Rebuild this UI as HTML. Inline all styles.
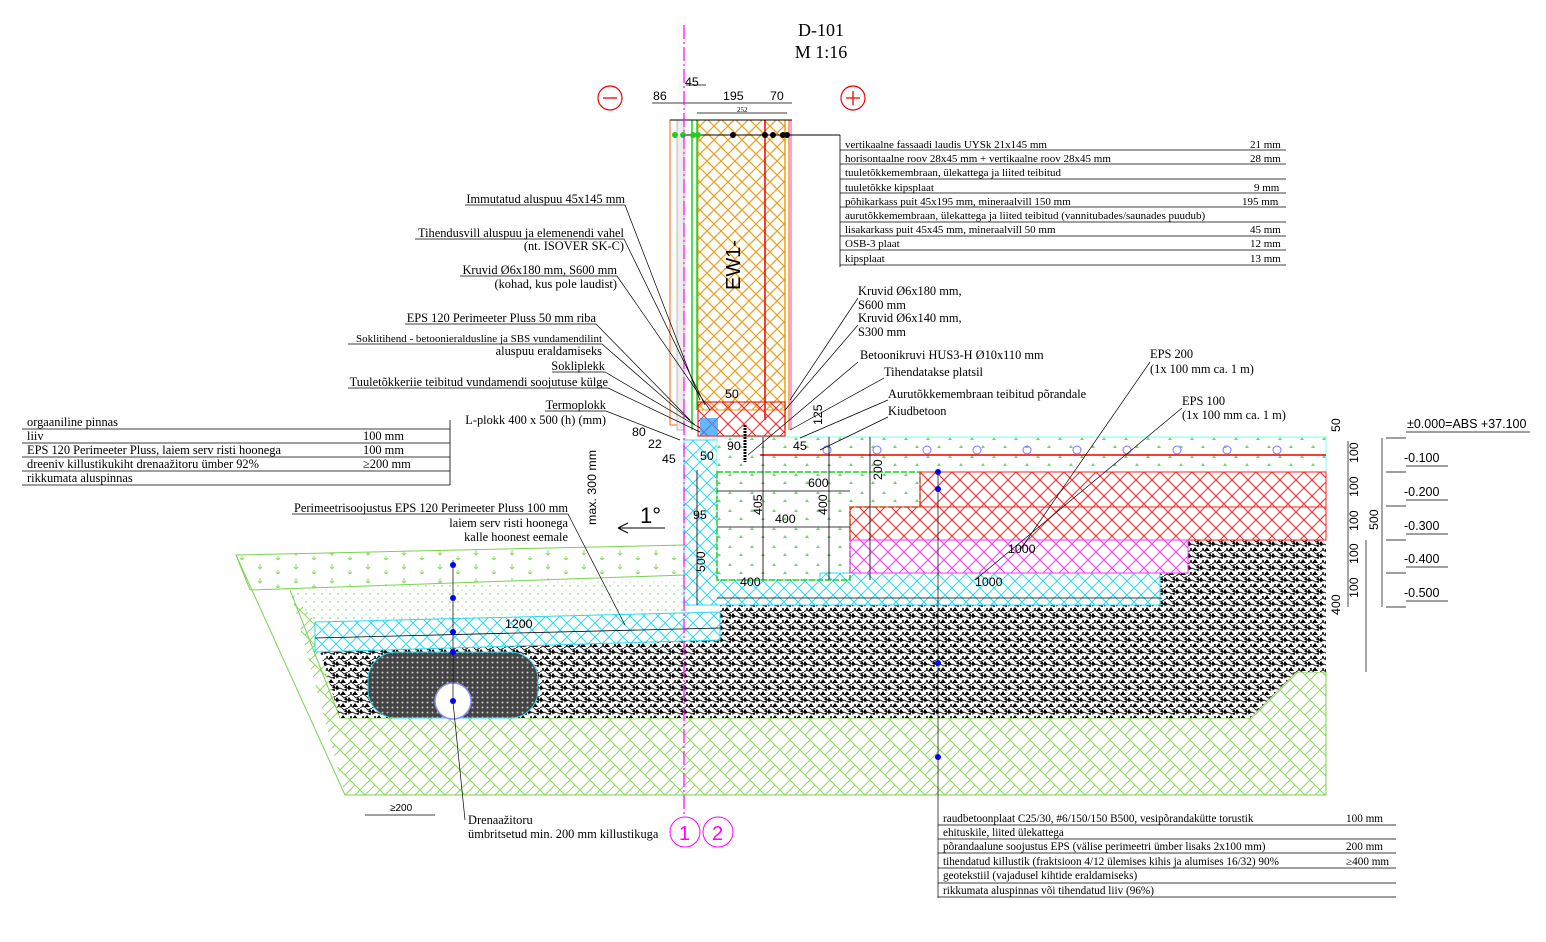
<!DOCTYPE html>
<html><head><meta charset="utf-8"><style>
html,body{margin:0;padding:0;background:#fff;}
svg{display:block;}
text{font-family:"Liberation Serif",serif;font-size:12.4px;fill:#000;}
text.t{font-size:11px;}
text.b{font-size:11.2px;}
.s{font-family:"Liberation Sans",sans-serif;}
</style></head><body>
<svg width="1546" height="942" viewBox="0 0 1546 942" xmlns="http://www.w3.org/2000/svg">
<defs>
<pattern id="or" width="14" height="14" patternUnits="userSpaceOnUse"><rect width="14" height="14" fill="#fff"/><path d="M0 0L14 14M14 0L0 14" stroke="#e8a020" stroke-width="1.2"/></pattern>
<pattern id="rd" width="16" height="16" patternUnits="userSpaceOnUse"><path d="M0 0L16 16M16 0L0 16" stroke="#f22" stroke-width="1"/></pattern>
<pattern id="cy" width="14" height="14" patternUnits="userSpaceOnUse"><path d="M0 0L14 14M14 0L0 14" stroke="#2cd8f0" stroke-width="1"/></pattern>
<pattern id="mg" width="16" height="16" patternUnits="userSpaceOnUse"><path d="M0 0L16 16M16 0L0 16" stroke="#f3f" stroke-width="1"/></pattern>
<pattern id="gh" width="20" height="20" patternUnits="userSpaceOnUse"><path d="M0 10L10 0M5 15L15 5M10 20L20 10M0 10L10 20M10 0L20 10" stroke="#8cd860" stroke-width="1"/></pattern>
<pattern id="gv" width="12" height="12" patternUnits="userSpaceOnUse"><rect width="12" height="12" fill="#fff"/><path d="M1 1l3 4h-6z M7 7l3 4h-6z M10 1l2 3h-4z" fill="#000"/><path d="M0 6L4 4 8 6 12 4M6 0l2 2 4-2M0 12l3-2 3 2" stroke="#222" stroke-width="1" fill="none"/><circle cx="10" cy="6" r="1" fill="#000"/><circle cx="3" cy="9" r="1" fill="#000"/></pattern>
<pattern id="gd" width="5" height="5" patternUnits="userSpaceOnUse"><rect width="5" height="5" fill="#444"/><circle cx="2.5" cy="2.5" r="1" fill="#ccc"/></pattern>
<pattern id="dot" width="22" height="18" patternUnits="userSpaceOnUse"><path d="M4 5l2 3h-4z M15 13l2 3h-4z" fill="#6d6"/></pattern>
<pattern id="sd" width="8" height="8" patternUnits="userSpaceOnUse"><circle cx="2" cy="2" r=".7" fill="#6c4"/><circle cx="6" cy="6" r=".5" fill="#6c4"/></pattern>
<pattern id="ts" width="36" height="14" patternUnits="userSpaceOnUse"><path d="M8 4v5M6 7l2 2 2-2 M26 10v4 M24 12l2 2 2-2" stroke="#8d6" fill="none"/></pattern>
</defs>

<text x="821" y="36" text-anchor="middle" style="font-size:18px">D-101</text>
<text x="821" y="58" text-anchor="middle" style="font-size:18px">M 1:16</text>
<circle cx="610" cy="98" r="12" fill="none" stroke="#e00" stroke-width="1.2"/><path d="M603 98h14" stroke="#e00" stroke-width="1.3"/>
<circle cx="853" cy="98" r="12" fill="none" stroke="#e00" stroke-width="1.2"/><path d="M846 98h14M853 91v14" stroke="#e00" stroke-width="1.3"/>

<path d="M652 103h140M686 85h20M697 113h90" stroke="#000" stroke-width=".8" fill="none"/>
<g class="s"><text x="653" y="100" class="s">86</text><text x="685" y="86" class="s">45</text><text x="723" y="100" class="s">195</text><text x="770" y="100" class="s">70</text></g><text x="737" y="112" style="font-size:7px">252</text>

<polygon points="250,590 290,590 345,795 1326,795 1326,672 1296,672 1250,718 340,718 320,652 315,622 290,590" fill="url(#gh)"/>
<path d="M236,555 L345,795 L1326,795 L1326,672 L1296,672 L1250,718 L340,718 L290,590" fill="none" stroke="#7cd050" stroke-width="1"/>
<polygon points="236,555 684,545 684,575 250,590" fill="url(#ts)" stroke="#7cd050"/>
<polygon points="250,590 684,578 684,612 720,612 315,622 290,590" fill="url(#sd)"/>
<polygon points="320,652 720,640 720,605 1160,605 1160,573 1188,573 1188,540 1326,540 1326,672 1296,672 1250,718 340,718" fill="url(#gv)"/>
<rect x="368" y="652" width="170" height="66" rx="28" fill="url(#gd)" stroke="#2cd8f0"/>
<circle cx="453" cy="701" r="18" fill="#fff" stroke="#88f" stroke-width="1.5"/>
<polygon points="315,622 720,612 720,640 315,652" fill="#fff"/><polygon points="315,622 720,612 720,640 315,652" fill="url(#cy)" stroke="#2cd8f0"/>
<path d="M315,638 L720,628" stroke="#000" stroke-width=".8"/><text x="505" y="628" class="s">1200</text>

<polygon points="684,440 717,440 717,580 820,580 820,573 1160,573 1160,605 684,605" fill="url(#cy)" stroke="#2cd8f0"/>
<rect x="717" y="437" width="609" height="35" fill="url(#dot)" stroke="#7fe" stroke-width="1"/>
<polygon points="717,472 920,472 920,507 850,507 850,580 717,580" fill="url(#dot)" stroke="#2c2" stroke-dasharray="6 2" stroke-width="1.5"/>
<rect x="920" y="472" width="406" height="35" fill="url(#rd)" stroke="#f22"/>
<rect x="850" y="507" width="476" height="33" fill="url(#rd)" stroke="#f22"/>
<rect x="850" y="540" width="338" height="33" fill="url(#mg)" stroke="#f3f"/>
<path d="M760 455H1326" stroke="#e00" stroke-width="1.5"/>
<g fill="none" stroke="#77f"><circle cx="827" cy="450" r="4"/><circle cx="877" cy="450" r="4"/><circle cx="927" cy="450" r="4"/><circle cx="977" cy="450" r="4"/><circle cx="1027" cy="450" r="4"/><circle cx="1077" cy="450" r="4"/><circle cx="1127" cy="450" r="4"/><circle cx="1177" cy="450" r="4"/><circle cx="1227" cy="450" r="4"/><circle cx="1277" cy="450" r="4"/></g>
<g stroke="#000" stroke-width=".8" fill="none">
<path d="M717 491H850M717 527H850M763 437V580M829 437V580M870 437V580M717 598H1160M697 470V605"/>
</g>
<g><text x="808" y="487" class="s">600</text><text x="775" y="523" class="s">400</text><text x="740" y="586" class="s">400</text><text x="975" y="586" class="s">1000</text><text x="1008" y="553" class="s">1000</text><text x="700" y="460" class="s">50</text><text x="727" y="450" class="s">90</text><text x="693" y="519" class="s">95</text>
<text transform="translate(762 515) rotate(-90)" class="s">405</text><text transform="translate(827 515) rotate(-90)" class="s">400</text><text transform="translate(882 480) rotate(-90)" class="s">200</text><text transform="translate(705 572) rotate(-90)" class="s">500</text></g>

<rect x="698" y="120" width="87" height="290" fill="url(#or)" stroke="#e8a020"/>
<rect x="670" y="120" width="7" height="305" fill="#fff" stroke="#f60"/>
<rect x="677" y="120" width="7" height="310" fill="#eee" stroke="#bbb"/>
<path d="M692 120V430M697 120V410" stroke="#2c2" stroke-width="1.5"/>
<path d="M765 120V420" stroke="#e00" stroke-width="1.5"/><path d="M785 120V430M789 120V430" stroke="#e8a020" stroke-width="1.5"/><path d="M791 120V430" stroke="#f3f"/>
<rect x="698" y="402" width="87" height="34" fill="url(#rd)" stroke="#e00"/>
<rect x="700" y="418" width="18" height="18" fill="#29f" opacity=".7"/>
<path d="M670 120H792" stroke="#000"/>
<text transform="translate(740 290) rotate(-90)" class="s" style="font-size:20px">EW1-</text>
<text x="725" y="398" class="s">50</text>
<path d="M684 135H840" stroke="#000"/>
<g fill="#2c2"><circle cx="675" cy="135" r="3"/><circle cx="683" cy="135" r="3"/><circle cx="693" cy="135" r="3"/><circle cx="698" cy="135" r="3"/></g>
<g fill="#000"><circle cx="733" cy="135" r="3"/><circle cx="765" cy="135" r="3"/><circle cx="773" cy="135" r="3"/><circle cx="783" cy="135" r="3"/><circle cx="787" cy="135" r="3"/></g>
<path d="M745 425V462" stroke="#000" stroke-width="3" stroke-dasharray="2 1"/>

<path d="M684 25V815" stroke="#f0f" stroke-width="1.2" stroke-dasharray="14 3 2 3"/>
<circle cx="685" cy="832" r="15" fill="none" stroke="#f0f"/><text x="679" y="840" class="s" style="font-size:20px;fill:#f0f">1</text>
<circle cx="718" cy="832" r="15" fill="none" stroke="#f0f"/><text x="712" y="840" class="s" style="font-size:20px;fill:#f0f">2</text>

<g stroke="#000" stroke-width=".8">
<path d="M840 135V267M840 150H1286M840 164H1286M840 179H1286M840 193H1286M840 207H1286M840 222H1286M840 236H1286M840 250H1286M840 265H1286"/></g>
<text class="t" x="845" y="148">vertikaalne fassaadi laudis UYSk 21x145 mm</text><text class="t" x="1250" y="148">21 mm</text>
<text class="t" x="845" y="162">horisontaalne roov 28x45 mm + vertikaalne roov 28x45 mm</text><text class="t" x="1250" y="162">28 mm</text>
<text class="t" x="845" y="176">tuuletõkkemembraan, ülekattega ja liited teibitud</text>
<text class="t" x="845" y="191">tuuletõkke kipsplaat</text><text class="t" x="1254" y="191">9 mm</text>
<text class="t" x="845" y="205">põhikarkass puit 45x195 mm, mineraalvill 150 mm</text><text class="t" x="1242" y="205">195 mm</text>
<text class="t" x="845" y="219">aurutõkkemembraan, ülekattega ja liited teibitud (vannitubades/saunades puudub)</text>
<text class="t" x="845" y="233">lisakarkass puit 45x45 mm, mineraalvill 50 mm</text><text class="t" x="1250" y="233">45 mm</text>
<text class="t" x="845" y="247">OSB-3 plaat</text><text class="t" x="1250" y="247">12 mm</text>
<text class="t" x="845" y="262">kipsplaat</text><text class="t" x="1250" y="262">13 mm</text>

<g stroke="#000" stroke-width=".7" fill="none">
<path d="M465 205H625L700 400M415 239H624L705 405M460 276H617L710 410M405 324H596L690 420M348 344H602L695 425M552 372H605L700 428M348 388H608L700 432M545 411H606L680 440M292 514H568L625 625M858 298L790 400M858 325L785 410M858 362L748 455M884 378L790 430M888 400L800 438M888 417L820 450M1150 362L1020 550M1182 408L975 580M1348 441V607M1382 438V607M1366 540V672M1386 438H1406M1386 472H1406M1386 506H1406M1386 540H1406M1386 573H1406M1386 607H1406M1406 432H1530M1406 466H1448M1406 500H1448M1406 534H1448M1406 567H1448M1406 601H1448M453 560V702L465 820"/>
</g>
<g stroke="#000" stroke-width=".7"><path d="M938 470V898"/></g>
<g fill="#00f"><circle cx="453" cy="565" r="3"/><circle cx="453" cy="598" r="3"/><circle cx="453" cy="632" r="3"/><circle cx="453" cy="652" r="3"/><circle cx="453" cy="701" r="3"/><circle cx="938" cy="472" r="3"/><circle cx="938" cy="489" r="3"/><circle cx="938" cy="663" r="3"/><circle cx="938" cy="757" r="3"/></g>
<text x="625" y="203" text-anchor="end">Immutatud aluspuu 45x145 mm</text>
<text x="624" y="237" text-anchor="end">Tihendusvill aluspuu ja elemenendi vahel</text>
<text x="624" y="250" text-anchor="end">(nt.     ISOVER SK-C)</text>
<text x="617" y="274" text-anchor="end">Kruvid Ø6x180 mm, S600 mm</text>
<text x="617" y="288" text-anchor="end">(kohad, kus pole laudist)</text>
<text x="596" y="322" text-anchor="end">EPS 120 Perimeeter Pluss 50 mm riba</text>
<text x="602" y="342" text-anchor="end" style="font-size:11px">Soklitihend - betoonieraldusline ja SBS vundamendilint</text>
<text x="602" y="355" text-anchor="end">aluspuu eraldamiseks</text>
<text x="605" y="370" text-anchor="end">Sokliplekk</text>
<text x="608" y="386" text-anchor="end">Tuuletõkkeriie teibitud vundamendi soojutuse külge</text>
<text x="606" y="409" text-anchor="end">Termoplokk</text>
<text x="606" y="424" text-anchor="end">L-plokk 400 x 500 (h) (mm)</text>
<text x="568" y="512" text-anchor="end">Perimeetrisoojustus EPS 120 Perimeeter Pluss 100 mm</text>
<text x="568" y="527" text-anchor="end">laiem serv risti hoonega</text>
<text x="568" y="541" text-anchor="end">kalle hoonest eemale</text>
<text x="858" y="295">Kruvid Ø6x180 mm,</text><text x="858" y="309">S600 mm</text>
<text x="858" y="322">Kruvid Ø6x140 mm,</text><text x="858" y="336">S300 mm</text>
<text x="860" y="359">Betoonikruvi HUS3-H Ø10x110 mm</text>
<text x="884" y="376">Tihendatakse platsil</text>
<text x="888" y="398">Aurutõkkemembraan teibitud põrandale</text>
<text x="888" y="415">Kiudbetoon</text>
<text x="1150" y="358">EPS 200</text><text x="1150" y="373">(1x 100 mm ca. 1 m)</text>
<text x="1182" y="405">EPS 100</text><text x="1182" y="419">(1x 100 mm ca. 1 m)</text>
<g><text x="1407" y="428" class="s" style="font-size:12.5px">±0.000=ABS +37.100</text>
<text x="1404" y="462" class="s" style="font-size:12.5px">-0.100</text><text x="1404" y="496" class="s" style="font-size:12.5px">-0.200</text><text x="1404" y="530" class="s" style="font-size:12.5px">-0.300</text><text x="1404" y="563" class="s" style="font-size:12.5px">-0.400</text><text x="1404" y="597" class="s" style="font-size:12.5px">-0.500</text>
<text transform="translate(1358 463) rotate(-90)" class="s">100</text><text transform="translate(1358 497) rotate(-90)" class="s">100</text><text transform="translate(1358 531) rotate(-90)" class="s">100</text><text transform="translate(1358 564) rotate(-90)" class="s">100</text><text transform="translate(1358 598) rotate(-90)" class="s">100</text><text transform="translate(1378 530) rotate(-90)" class="s">500</text><text transform="translate(1340 432) rotate(-90)" class="s">50</text><text transform="translate(1340 615) rotate(-90)" class="s">400</text>
<text transform="translate(596 525) rotate(-90)" class="s">max. 300 mm</text>
<text x="640" y="523" class="s" style="font-size:22px">1°</text>
<text x="648" y="448" class="s">22</text><text x="662" y="463" class="s">45</text><text x="632" y="436" class="s">80</text><text x="793" y="450" class="s">45</text>
<text transform="translate(822 425) rotate(-90)" class="s">125</text></g>
<path d="M618 528H665M618 528l10-5M618 528l10 5" stroke="#000" fill="none"/>

<g stroke="#000" stroke-width=".8"><path d="M22 429H450M22 443H450M22 457H450M22 471H450M22 485H450M450 420V485"/></g>
<text x="27" y="426">orgaaniline pinnas</text>
<text x="27" y="440">liiv</text><text x="363" y="440">100 mm</text>
<text x="27" y="454">EPS 120 Perimeeter Pluss, laiem serv risti hoonega</text><text x="363" y="454">100 mm</text>
<text x="27" y="468">dreeniv killustikukiht drenaažitoru ümber 92%</text><text x="363" y="468">≥200 mm</text>
<text x="27" y="482">rikkumata aluspinnas</text>

<text x="468" y="824">Drenaažitoru</text><text x="468" y="838">ümbritsetud min. 200 mm killustikuga</text>
<path d="M365 815H435" stroke="#000" stroke-width=".7"/><text x="390" y="811" class="s" style="font-size:10px">≥200</text>

<g stroke="#000" stroke-width=".8"><path d="M938 825H1396M938 839H1396M938 853H1396M938 868H1396M938 883H1396M938 897H1396"/></g>
<text class="b" x="943" y="822">raudbetoonplaat C25/30, #6/150/150 B500, vesipõrandakütte torustik</text><text class="b" x="1346" y="822">100 mm</text>
<text class="b" x="943" y="836">ehituskile, liited ülekattega</text>
<text class="b" x="943" y="850">põrandaalune soojustus EPS (välise perimeetri ümber lisaks 2x100 mm)</text><text class="b" x="1346" y="850">200 mm</text>
<text class="b" x="943" y="865">tihendatud killustik (fraktsioon 4/12  ülemises kihis ja alumises 16/32) 90%</text><text class="b" x="1346" y="865">≥400 mm</text>
<text class="b" x="943" y="879">geotekstiil (vajadusel kihtide eraldamiseks)</text>
<text class="b" x="943" y="894">rikkumata aluspinnas või tihendatud liiv (96%)</text>
</svg>
</body></html>
